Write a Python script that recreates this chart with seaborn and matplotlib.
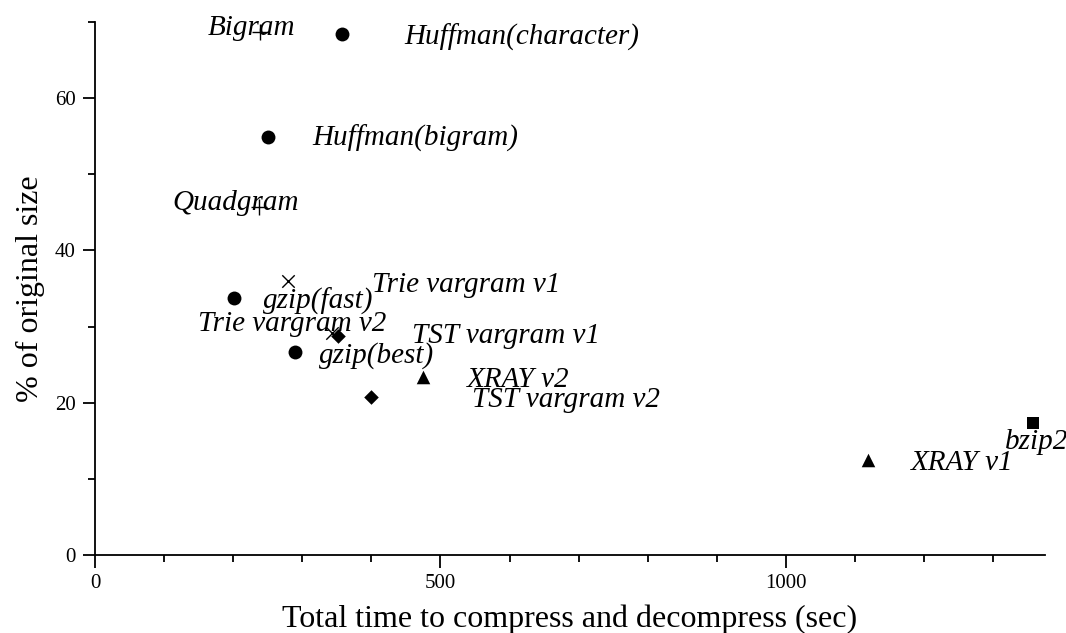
import matplotlib
matplotlib.use("Agg")
import matplotlib.pyplot as plt
import seaborn as sns
import pandas as pd
from matplotlib.ticker import MultipleLocator

# Compression methods: total compress+decompress time vs. compressed size
methods = ["Bigram", "Huffman(character)", "Huffman(bigram)", "Quadgram",
           "Trie vargram v1", "gzip(fast)", "Trie vargram v2", "TST vargram v1",
           "gzip(best)", "XRAY v2", "TST vargram v2", "XRAY v1", "bzip2"]
total_time = [239, 357, 251, 238, 280, 201, 343, 352, 289, 475, 399, 1119, 1357]
pct_size = [68.7, 68.4, 54.9, 45.7, 36.0, 33.8, 29.2, 28.7, 26.7, 23.4, 20.7, 12.5, 17.4]
family = ["ngram", "huffman", "huffman", "ngram", "trie", "gzip", "trie",
          "tst", "gzip", "xray", "tst", "xray", "bzip2"]

x_ticks = [0, 500, 1000]
y_ticks = [0, 20, 40, 60]

# marker, size, line width for each family of methods
marker_style = {
    "ngram": ("+", 120, 1.0),
    "huffman": ("o", 100, 0),
    "gzip": ("o", 100, 0),
    "trie": ("x", 80, 1.0),
    "tst": ("D", 55, 0),
    "xray": ("^", 95, 0),
    "bzip2": ("s", 85, 0),
}

# label placement relative to each point, in pixels
label_offset = [(-52, 4), (63, -3), (44, -1), (-87, 4), (84, -4), (29, -4),
                (-134, 9), (74, 0), (24, -4), (44, -3), (101, -3), (43, -3),
                (-28, -19)]

df = pd.DataFrame({"method": methods, "time": total_time,
                   "size": pct_size, "family": family})

sns.set_style("ticks")
serif = ["Liberation Serif", "DejaVu Serif"]
plt.rcParams["font.family"] = serif

fig = plt.figure(figsize=(10.66, 6.33), dpi=100)
ax = fig.add_axes([95 / 1066, 1 - 555 / 633, (1045 - 95) / 1066, (555 - 22) / 633])

for fam, (mk, s, lw) in marker_style.items():
    sub = df[df["family"] == fam]
    sns.scatterplot(data=sub, x="time", y="size", marker=mk, s=s,
                    color="black", linewidth=lw, edgecolor="black" if lw == 0 else None,
                    ax=ax, legend=False, zorder=3)

for name, xv, yv, (dx, dy) in zip(methods, total_time, pct_size, label_offset):
    ax.annotate(name, (xv, yv), xytext=(dx, dy), textcoords="offset pixels",
                ha="left", va="center", fontsize=21, style="italic",
                family=serif, color="black", annotation_clip=False)

ax.set_xlim(0, 1375)
ax.set_ylim(0, 70)
ax.set_xticks(x_ticks)
ax.set_yticks(y_ticks)
ax.xaxis.set_minor_locator(MultipleLocator(100))
ax.yaxis.set_minor_locator(MultipleLocator(10))
ax.tick_params(axis="both", which="major", direction="out", length=9, width=1.3,
               labelsize=15, color="black", labelcolor="black", pad=5)
ax.tick_params(axis="both", which="minor", direction="out", length=5, width=1.3,
               color="black")

for side in ("top", "right"):
    ax.spines[side].set_visible(False)
for side in ("left", "bottom"):
    ax.spines[side].set_linewidth(1.3)
    ax.spines[side].set_color("black")

ax.set_xlabel("Total time to compress and decompress (sec)", fontsize=23,
              color="black", labelpad=8)
ax.set_ylabel("% of original size", fontsize=23, color="black", labelpad=7)

fig.savefig("out.png", dpi=100)
